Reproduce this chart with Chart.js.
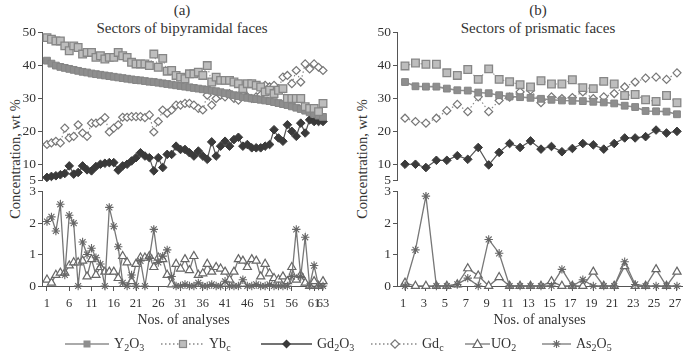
<!DOCTYPE html>
<html>
<head>
<meta charset="utf-8">
<script src="https://cdn.jsdelivr.net/npm/chart.js@4.4.0/dist/chart.umd.min.js"></script>
<style>
  body { margin:0; width:685px; height:355px; background:#fff; position:relative; overflow:hidden;
         font-family:"Liberation Serif","DejaVu Serif",serif; color:#333; }
  canvas { position:absolute; }
  .t { position:absolute; white-space:nowrap; transform:translate(-50%,-50%); font-size:15px; }
  .yl { position:absolute; white-space:nowrap; transform:translate(-50%,-50%) rotate(-90deg); font-size:14.5px; }
  .lg { position:absolute; top:336px; height:16px; display:flex; align-items:center; font-size:14px; white-space:nowrap; }
  .lg svg { display:block; }
  sub { font-size:10px; vertical-align:-3px; line-height:0; }
</style>
</head>
<body>
<div class="t" style="left:182px;top:10px">(a)</div>
<div class="t" style="left:182px;top:28px">Sectors of bipyramidal faces</div>
<div class="t" style="left:538px;top:10px">(b)</div>
<div class="t" style="left:538px;top:28px">Sectors of prismatic faces</div>
<div class="yl" style="left:15px;top:159px">Concentration, wt %</div>
<div class="yl" style="left:362px;top:159px">Concentration, wt %</div>

<canvas id="aUp" width="340" height="172" style="left:0;top:20px"></canvas>
<canvas id="aLow" width="340" height="155" style="left:0;top:180px"></canvas>
<canvas id="bUp" width="340" height="172" style="left:355px;top:20px"></canvas>
<canvas id="bLow" width="340" height="155" style="left:355px;top:180px"></canvas>

<div class="lg" style="left:65px">
  <svg width="44" height="16"><line x1="0" y1="8" x2="44" y2="8" stroke="#8e8e8e" stroke-width="1.6"/><rect x="18.5" y="4.5" width="7" height="7" fill="#8e8e8e"/></svg>
  <span style="margin-left:5px">Y<sub>2</sub>O<sub>3</sub></span>
</div>
<div class="lg" style="left:161px">
  <svg width="44" height="16"><line x1="0" y1="8" x2="44" y2="8" stroke="#888" stroke-width="1.3" stroke-dasharray="1.5,2.5"/><rect x="18.5" y="4.5" width="7" height="7" fill="#bdbdbd" stroke="#888" stroke-width="1.2"/></svg>
  <span style="margin-left:4px">Yb<sub>c</sub></span>
</div>
<div class="lg" style="left:261px">
  <svg width="51" height="16"><line x1="0" y1="8" x2="51" y2="8" stroke="#444" stroke-width="1.3"/><polygon points="25.5,3.5 30,8 25.5,12.5 21,8" fill="#3a3a3a"/></svg>
  <span style="margin-left:5px">Gd<sub>2</sub>O<sub>3</sub></span>
</div>
<div class="lg" style="left:371px">
  <svg width="48" height="16"><line x1="0" y1="8" x2="48" y2="8" stroke="#888" stroke-width="1.3" stroke-dasharray="1.5,2.5"/><polygon points="24,3.8 28.2,8 24,12.2 19.8,8" fill="#fff" stroke="#777" stroke-width="1.2"/></svg>
  <span style="margin-left:3px">Gd<sub>c</sub></span>
</div>
<div class="lg" style="left:465px">
  <svg width="25" height="16"><line x1="0" y1="8" x2="25" y2="8" stroke="#777" stroke-width="1.3"/><polygon points="12.5,3.5 17,11.5 8,11.5" fill="#fff" stroke="#666" stroke-width="1.2"/></svg>
  <span style="margin-left:1px">UO<sub>2</sub></span>
</div>
<div class="lg" style="left:542px">
  <svg width="29" height="16"><line x1="0" y1="8" x2="29" y2="8" stroke="#777" stroke-width="1.3"/><g stroke="#666" stroke-width="1.1"><line x1="10.5" y1="8" x2="18.5" y2="8"/><line x1="14.5" y1="4" x2="14.5" y2="12"/><line x1="11.7" y1="5.2" x2="17.3" y2="10.8"/><line x1="11.7" y1="10.8" x2="17.3" y2="5.2"/></g></svg>
  <span style="margin-left:5px">As<sub>2</sub>O<sub>5</sub></span>
</div>

<script>
const FONT = '"Liberation Serif", "DejaVu Serif", serif';

// tick labels
const ticksA = [1, 6, 11, 16, 21, 26, 31, 36, 41, 46, 51, 56, 61, 63];
const ticksB = [1, 3, 5, 7, 9, 11, 13, 15, 17, 19, 21, 23, 25, 27];
const ticksUp = [5, 10, 20, 30, 40, 50];
const ticksLow = [0, 1, 2, 3];

// (a) sectors of bipyramidal faces, analyses 1..63
const a_Y2O3 = [41.5, 40.6, 40.0, 39.6, 39.3, 39.0, 38.7, 38.4, 38.1, 37.9,
  37.6, 37.4, 37.2, 37.0, 36.8, 36.6, 36.4, 36.2, 36.0, 35.8,
  35.6, 35.5, 35.3, 35.1, 35.0, 34.8, 34.6, 34.4, 34.2, 34.0,
  33.8, 33.6, 33.4, 33.2, 33.0, 32.8, 32.6, 32.4, 32.2, 31.9,
  31.6, 31.3, 31.0, 30.7, 30.4, 30.2, 30.0, 29.8, 29.6, 29.4,
  29.2, 28.9, 28.6, 28.3, 28.0, 27.6, 27.2, 26.8, 26.3, 25.8,
  25.3, 24.8, 24.4];
const a_Ybc = [48.5, 48, 47.5, 47.5, 46, 44.5, 46, 45.5, 43.5, 44,
  44, 42.5, 43, 42, 42.5, 42.5, 44, 43, 42.5, 41,
  40.5, 40.5, 40.5, 40, 43.5, 39.5, 42.2, 38.3, 38.5, 37,
  36.5, 36, 37.5, 37.5, 38, 37, 40, 35, 36.5, 35.5,
  35.5, 35.5, 35, 34.5, 33, 34.5, 34.5, 34, 33.5, 32,
  32.5, 31.5, 32.5, 33, 30, 30, 30, 30, 27.5, 27,
  27, 26, 28.5];
const a_Gd2O3 = [6, 6.3, 6.5, 6.8, 7.2, 9.5, 7, 7.5, 9.5, 8.3,
  8, 9.3, 10, 10.3, 10.5, 10.5, 8.2, 9.5, 10, 11,
  12, 13.5, 12.5, 12, 8, 12, 9, 13, 13, 15.5,
  14.5, 14.5, 13.5, 12.5, 14, 12.5, 11.5, 16.8, 12.5, 15.5,
  17, 15.5, 17.5, 18.2, 15.5, 16, 15, 15, 15, 15.5,
  16, 20.5, 18, 17, 22, 20, 18.5, 22.5, 19.5, 23.5,
  23, 23, 23];
const a_Gdc = [16, 16.5, 17, 16.5, 21, 18, 18.5, 22, 19.5, 18.5,
  22.5, 22.5, 23, 24.2, 19.8, 21, 22, 24.3, 24.3, 24.5,
  24.5, 24.5, 24.2, 25, 19.8, 23, 26.5, 25.5, 26.5, 28,
  28, 28.5, 28.5, 28, 27, 26.5, 31, 28, 30, 31,
  30.5, 31.5, 30, 29.5, 32, 30.5, 30, 30.5, 31, 34,
  33.5, 34, 33, 36.5, 37, 34.5, 38.5, 35, 40.5, 39,
  40.5, 39.5, 38.5];
const a_UO2 = [0.2, 0.1, 0.35, 0.42, 0.42, 0.65, 0.75, 0.75, 0.8, 0.3,
  0.85, 0.35, 0.6, 0.45, 0.45, 0.45, 0.25, 0.95, 0.75, 0.15,
  0.7, 0.9, 0.9, 0.95, 0.6, 0.9, 0.85, 0.35, 0.05, 0.7,
  0.55, 0.85, 0.5, 0.95, 0.35, 0.4, 0.7, 0.45, 0.6, 0.55,
  0.45, 0.2, 0.45, 0.85, 0.8, 0.6, 0.85, 0.8, 0.3, 0.7,
  0.4, 0.25, 0.2, 0.3, 0.15, 0.6, 0.2, 0.35, 0.1, 0,
  0.15, 0, 0.15];
const a_As2O5 = [2.05, 2.2, 1.75, 2.6, 0.35, 2.25, 2.0, 0, 1.4, 1.0,
  1.2, 0.9, 0.7, 0, 2.5, 1.9, 1.25, 0.1, 0, 0.35,
  0, 0.8, 0, 0.9, 1.8, 0.75, 0.95, 1.15, 0.3, 0,
  0, 0.05, 0, 0, 0.1, 0, 0, 0.05, 0, 0,
  0.15, 0, 0, 0, 0.2, 0, 0, 0.05, 0, 0,
  0.05, 0, 0, 0, 0, 0.3, 1.8, 0.3, 1.55, 0,
  0.65, 0, 0];

// (b) sectors of prismatic faces, analyses 1..27
const b_Y2O3 = [35, 33.7, 33.6, 33.6, 33, 32.5, 32.4, 31.8, 31.6, 31,
  30.6, 30.4, 30.2, 29.9, 29.6, 29.4, 29.3, 29.2, 29, 28.8,
  28.5, 27.8, 27.4, 26.2, 26.1, 26, 25.2];
const b_Ybc = [39.9, 40.8, 40.4, 40.4, 37.8, 37, 38.8, 35.8, 39, 35.8,
  35.1, 34.2, 33.5, 35.4, 34.4, 34.4, 35.7, 33.3, 33, 35.2,
  34.4, 30.9, 31.2, 29.6, 29.1, 30.9, 28.7];
const b_Gd2O3 = [10, 10, 9, 11.2, 11.2, 12.6, 11.5, 15.1, 9.8, 13.6,
  16.3, 15.1, 17.1, 14.6, 15.4, 13.8, 14.8, 16.3, 15.9, 14.6,
  16.3, 18, 18, 18.4, 20.4, 19.5, 20];
const b_Gdc = [24, 23, 22.5, 24, 26.3, 28.2, 26, 30.5, 26, 29.4,
  30.4, 32, 32.5, 28.7, 30.5, 30, 30.3, 32, 30, 30.5,
  31.5, 33.5, 35, 36.2, 36.5, 35.8, 37.8];
const b_UO2 = [0.1, 0, 0, 0, 0, 0.05, 0.56, 0.33, 0, 0.28,
  0, 0, 0, 0, 0.15, 0, 0, 0, 0.45, 0,
  0, 0.63, 0, 0, 0.53, 0, 0.45];
const b_As2O5 = [0, 1.15, 2.86, 0, 0, 0.05, 0.25, 0, 1.48, 1.04,
  0, 0, 0, 0, 0, 0.53, 0, 0.2, 0, 0,
  0, 0.77, 0.05, 0, 0, 0, 0];

const styles = {
  Ybc:   { ps: 'rect',    r: 5.4, bg: '#bdbdbd', bd: '#868686', bw: 1.3, line: '#999', lw: 1.2, dash: [1.5, 2.5] },
  Y2O3:  { ps: 'rect',    r: 4.8, bg: '#8e8e8e', bd: '#858585', bw: 1,   line: '#8e8e8e', lw: 1.6, dash: [] },
  Gdc:   { ps: 'rectRot', r: 4,   bg: '#ffffff', bd: '#777',    bw: 1.2, line: '#888', lw: 1.2, dash: [1.5, 2.5] },
  Gd2O3: { ps: 'rectRot', r: 4.3, bg: '#3a3a3a', bd: '#3a3a3a', bw: 1,   line: '#555', lw: 1.2, dash: [] },
  As2O5: { ps: 'star',    r: 4.2, bg: '#ffffff', bd: '#666',    bw: 1.1, line: '#777', lw: 1.3, dash: [] },
  UO2:   { ps: 'triangle',r: 4.7, bg: '#ffffff', bd: '#666',    bw: 1.2, line: '#777', lw: 1.3, dash: [] }
};

const ds = (key, arr) => {
  const s = styles[key];
  return {
    label: key, data: arr.map((v, i) => ({ x: i + 1, y: v })),
    borderColor: s.line, borderWidth: s.lw, borderDash: s.dash,
    pointStyle: s.ps, pointRadius: s.r, pointBackgroundColor: s.bg,
    pointBorderColor: s.bd, pointBorderWidth: s.bw, clip: false, tension: 0
  };
};

function panel(id, datasets, xr, xTicks, yr, yTicks, lower, pad, labelShift) {
  new Chart(document.getElementById(id), {
    type: 'line',
    data: { datasets },
    options: {
      responsive: false, animation: false, events: [],
      layout: { padding: pad },
      plugins: { legend: { display: false }, tooltip: { enabled: false } },
      scales: {
        x: {
          type: 'linear', min: xr[0], max: xr[1], display: lower,
          afterBuildTicks: s => { s.ticks = xTicks.map(v => ({ value: v })); },
          afterFit: s => { s.height = lower ? 49 : 0; },
          ticks: { autoSkip: false, maxRotation: 0, padding: 5, labelOffset: labelShift, color: '#333', font: { family: FONT, size: 12.5 } },
          grid: { drawOnChartArea: false, drawTicks: true, tickLength: 5, color: '#555' },
          border: { color: '#555' },
          title: { display: true, text: 'Nos. of analyses', color: '#333', font: { family: FONT, size: 14 }, padding: { top: 0, bottom: 6 } }
        },
        y: {
          min: yr[0], max: yr[1],
          afterBuildTicks: s => { s.ticks = yTicks.map(v => ({ value: v })); },
          afterFit: s => { s.width = 42; },
          ticks: { padding: 2, color: '#333', font: { family: FONT, size: 13.5 } },
          grid: { drawOnChartArea: false, drawTicks: true, tickLength: 4, color: '#555' },
          border: { color: '#555' }
        }
      }
    }
  });
}

const xrA = [-0.12, 63.45], xrB = [0.235, 27.48];

panel('aUp', [ds('Ybc', a_Ybc), ds('Y2O3', a_Y2O3), ds('Gdc', a_Gdc), ds('Gd2O3', a_Gd2O3)],
  xrA, ticksA, [5, 50], ticksUp, false, { top: 12.7, bottom: 11.3, left: 0, right: 15 }, 0);
panel('aLow', [ds('As2O5', a_As2O5), ds('UO2', a_UO2)],
  xrA, ticksA, [0, 3], ticksLow, true, { top: 11.7, bottom: 0, left: 0, right: 15 }, 0);
panel('bUp', [ds('Ybc', b_Ybc), ds('Y2O3', b_Y2O3), ds('Gdc', b_Gdc), ds('Gd2O3', b_Gd2O3)],
  xrB, ticksB, [5, 50], ticksUp, false, { top: 12.7, bottom: 11.3, left: 0, right: 13 }, 0);
panel('bLow', [ds('As2O5', b_As2O5), ds('UO2', b_UO2)],
  xrB, ticksB, [0, 3], ticksLow, true, { top: 11.7, bottom: 0, left: 0, right: 13 }, -2);
</script>
</body>
</html>
